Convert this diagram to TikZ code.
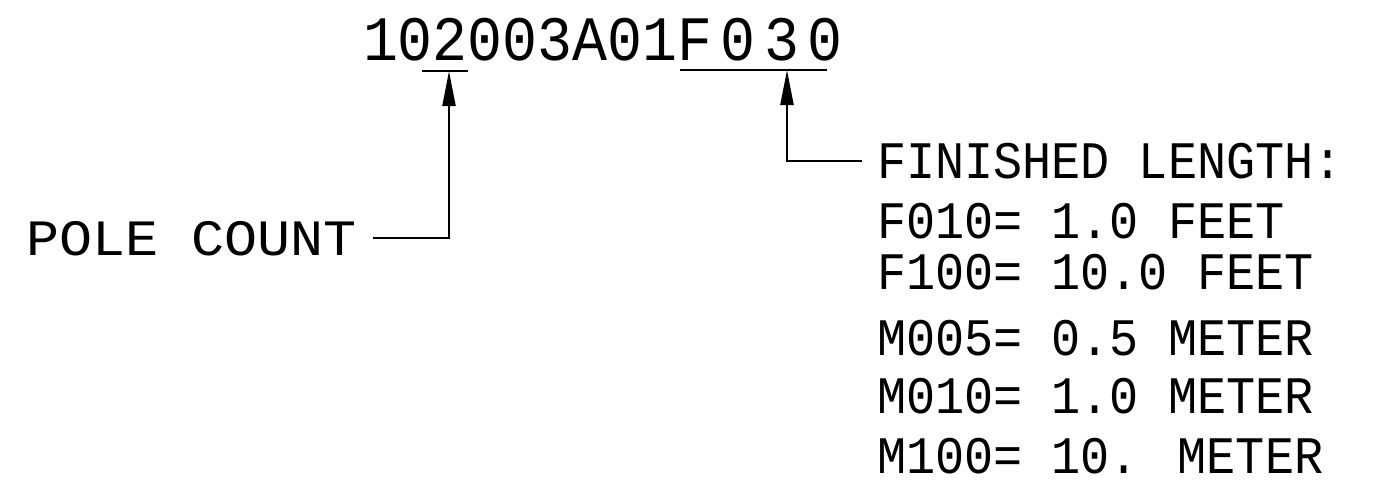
\documentclass[tikz,border=0pt]{standalone}
\usepackage{fontspec}
\usepackage{tikz}
\usetikzlibrary{arrows.meta,positioning}
\newfontfamily\cadfont[FakeStretch=0.92]{Liberation Mono}
\newfontfamily\cadwide[FakeStretch=1.08]{Liberation Mono}

\begin{document}
\begin{tikzpicture}[line width=0.6pt,>={Triangle[length=3.5mm,width=1.3mm]},
  code node/.style={font=\cadfont\fontsize{18}{18}\selectfont,inner sep=0pt,anchor=base west},
  list node/.style={font=\cadfont\fontsize{15}{15}\selectfont,inner sep=0pt,anchor=base west},
  label node/.style={font=\cadwide\fontsize{14.5}{14.5}\selectfont,inner sep=0pt}]

  \useasboundingbox (0,0) rectangle (13.76,4.81);

  \node[code node] (code) at (3.62,4.21) {102003A01F\kern0.8mm0\kern0.9mm3\kern0.8mm0};

  % underlines of the code
  \coordinate (u2) at (4.49,4.10);
  \coordinate (uF) at (7.87,4.11);
  \draw ([xshift=-2.7mm]u2) -- ([xshift=1.9mm]u2);
  \draw ([xshift=-10.7mm]uF) -- ([xshift=4mm]uF);

  \node[label node,anchor=base east] (pole) at (3.58,2.26) {POLE COUNT};
  \node[list node] (fin) at (8.76,3.03) {FINISHED LENGTH:};
  \node[list node] (f010) at (8.76,2.43) {F010= 1.0 FEET};
  \node[list node] (f100) at (8.76,1.92) {F100= 10.0 FEET};
  \node[list node] (m005) at (8.76,1.26) {M005= 0.5 METER};
  \node[list node] (m010) at (8.76,0.68) {M010= 1.0 METER};
  \node[list node] (m100) at (8.76,0.08) {M100= 10. METER};

  \draw[->] ([xshift=1.5mm]pole.east) -| (u2);
  \draw[->] ([xshift=-1.4mm]fin.west) -| (uF);
\end{tikzpicture}
\end{document}
